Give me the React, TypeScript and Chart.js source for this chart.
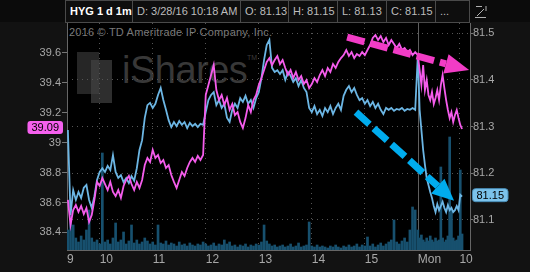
import React, { useEffect, useRef } from 'react';
import { Chart, registerables } from 'chart.js';

Chart.register(...registerables);

// ---------- data ----------
// x is a slot index along the time axis (Thursday session, then Monday session)
const THU_START = -6;
const THU_STEP = 3;
const MON_START = 390;
const MON_STEP = 2;
const SESSION_BREAK = 390;

// left axis series (pink)
const PINK_THU = [
  38.617, 38.45, 38.55, 38.583, 38.537, 38.577, 38.523, 38.563, 38.47, 38.517,
  38.617, 38.737, 38.71, 38.763, 38.723, 38.683, 38.737, 38.67, 38.643, 38.683,
  38.63, 38.71, 38.75, 38.777, 38.723, 38.683, 38.737, 38.697, 38.75, 38.85,
  38.897, 38.87, 38.95, 38.897, 38.917, 38.863, 38.883, 38.83, 38.85, 38.783,
  38.737, 38.697, 38.75, 38.803, 38.777, 38.83, 38.87, 38.897, 38.87, 38.91,
  38.883, 38.917, 39.317, 39.383, 39.45, 39.517, 39.35, 39.283, 39.317, 39.25,
  39.297, 39.217, 39.257, 39.183, 39.203, 39.137, 39.097, 39.163, 39.25, 39.203,
  39.283, 39.317, 39.383, 39.43, 39.483, 39.537, 39.563, 39.517, 39.55, 39.577,
  39.523, 39.55, 39.497, 39.45, 39.483, 39.43, 39.47, 39.417, 39.443, 39.39,
  39.417, 39.363, 39.39, 39.43, 39.403, 39.45, 39.483, 39.443, 39.497, 39.47,
  39.523, 39.497, 39.537, 39.563, 39.583, 39.617, 39.577, 39.603, 39.563, 39.59,
  39.577, 39.603, 39.583, 39.617, 39.65, 39.697, 39.717, 39.683, 39.71, 39.67,
  39.697, 39.65, 39.683, 39.657, 39.63, 39.657, 39.617, 39.63, 39.603, 39.617,
  39.583, 39.603,
];
const PINK_MON = [
  39.583, 39.483, 39.383, 39.517, 39.35, 39.417, 39.317, 39.283, 39.337, 39.257,
  39.297, 39.35, 39.283, 39.383, 39.45, 39.363, 39.283, 39.217, 39.163, 39.203,
  39.137, 39.183, 39.217, 39.163, 39.117, 39.09,
];

// right axis series (HYG, blue)
const BLUE_THU = [
  81.293, 81.111, 81.164, 81.143, 81.16, 81.147, 81.169, 81.175, 81.143, 81.126,
  81.151, 81.186, 81.203, 81.211, 81.203, 81.216, 81.207, 81.239, 81.203, 81.19,
  81.196, 81.181, 81.19, 81.179, 81.194, 81.184, 81.211, 81.25, 81.271, 81.319,
  81.346, 81.351, 81.34, 81.349, 81.368, 81.383, 81.357, 81.336, 81.314, 81.299,
  81.31, 81.301, 81.312, 81.304, 81.31, 81.297, 81.308, 81.301, 81.306, 81.299,
  81.306, 81.304, 81.331, 81.357, 81.368, 81.374, 81.346, 81.357, 81.34, 81.349,
  81.319, 81.31, 81.336, 81.349, 81.34, 81.361, 81.353, 81.366, 81.349, 81.357,
  81.34, 81.361, 81.374, 81.404, 81.443, 81.475, 81.486, 81.426, 81.417, 81.421,
  81.413, 81.421, 81.4, 81.417, 81.409, 81.396, 81.404, 81.387, 81.4, 81.383,
  81.374, 81.34, 81.331, 81.344, 81.327, 81.336, 81.323, 81.34, 81.331, 81.344,
  81.327, 81.34, 81.349, 81.336, 81.366, 81.379, 81.387, 81.374, 81.383, 81.368,
  81.357, 81.361, 81.349, 81.357, 81.344, 81.353, 81.34, 81.349, 81.336, 81.327,
  81.34, 81.336, 81.34, 81.334, 81.338, 81.336, 81.34, 81.334, 81.338, 81.336,
  81.34, 81.336,
];
const BLUE_MON = [
  81.454, 81.336, 81.293, 81.25, 81.218, 81.19, 81.175, 81.16, 81.147, 81.13,
  81.117, 81.134, 81.121, 81.13, 81.139, 81.126, 81.117, 81.132, 81.121, 81.126,
  81.117, 81.121, 81.13, 81.121, 81.154, 81.15,
];

// volume (thousand shares)
const VOL_THU = [
  100, 175, 125, 60, 40, 70, 50, 100, 200, 60,
  40, 50, 30, 485, 40, 50, 30, 60, 135, 40,
  50, 90, 30, 45, 125, 35, 50, 30, 40, 60,
  45, 30, 40, 25, 125, 35, 30, 45, 25, 35,
  30, 20, 40, 25, 30, 20, 35, 25, 20, 30,
  25, 40, 30, 20, 25, 35, 20, 30, 25, 50,
  30, 40, 20, 25, 15, 25, 20, 30, 15, 25,
  20, 30, 25, 40, 125, 45, 30, 20, 25, 15,
  20, 25, 15, 20, 30, 15, 20, 35, 15, 20,
  25, 140, 20, 15, 25, 15, 20, 15, 10, 20,
  15, 25, 15, 10, 20, 15, 25, 15, 20, 30,
  15, 25, 20, 65, 20, 30, 15, 25, 35, 20,
  30, 40, 50, 150, 40, 30, 45, 60, 40, 100,
  215, 200,
];
const VOL_MON = [
  100, 60, 75, 50, 40, 60, 45, 70, 50, 40,
  60, 45, 50, 415, 60, 40, 50, 70, 565, 200,
  60, 45, 50, 70, 400, 80,
];

const X_TICKS = [-7, 30, 90, 150, 210, 270, 330, 390, 437];
const X_LABELS = ['9', '10', '11', '12', '13', '14', '15', 'Mon', '10'];
const X_MIN = -7;
const X_MAX = 449;
const LEFT_TICKS = [38.4, 38.6, 38.8, 39.0, 39.2, 39.4, 39.6];
const LEFT_MIN = 38.283;
const LEFT_MAX = 39.797;
const RIGHT_TICKS = [81.1, 81.2, 81.3, 81.4, 81.5];
const RIGHT_MIN = 81.0357;
const RIGHT_MAX = 81.5221;
const VOL_MAX = 1135;

const HEADER = ['HYG 1 d 1m', 'D: 3/28/16 10:18 AM', 'O: 81.13', 'H: 81.15', 'L: 81.13', 'C: 81.15', '...'];
const WATERMARK = '2016 \u00A9 TD Ameritrade IP Company, Inc.';
const LOGO = 'iShares';

// annotation arrows: [x, value] start and end
const PINK_ARROW = [[310, 39.703], [448, 39.483]];
const BLUE_ARROW = [[320, 81.331], [431, 81.141]];

// ---------- styles ----------
const PINK = '#f55cec';
const BLUE = '#6cb6e4';
const VOL_COLOR = '#17506e';
const PINK_ARROW_COLOR = '#f23cc6';
const BLUE_ARROW_COLOR = '#00acee';
const FONT = "'Liberation Sans', Arial, Helvetica, sans-serif";
const TICK_COLOR = '#a8a8a8';
const GRID_COLOR = '#555555';

function buildPoints(thu: number[], mon: number[]) {
  return [
    ...thu.map((v, i) => ({ x: THU_START + THU_STEP * i, y: v })),
    ...mon.map((v, j) => ({ x: MON_START + MON_STEP * j, y: v })),
  ];
}

function drawArrow(ctx: CanvasRenderingContext2D, x1: number, y1: number, x2: number, y2: number, color: string, headLen: number, headW: number) {
  const ang = Math.atan2(y2 - y1, x2 - x1);
  const bx = x2 - headLen * Math.cos(ang);
  const by = y2 - headLen * Math.sin(ang);
  ctx.save();
  ctx.strokeStyle = color;
  ctx.lineWidth = 7;
  ctx.setLineDash([18, 6]);
  ctx.beginPath();
  ctx.moveTo(x1, y1);
  ctx.lineTo(bx, by);
  ctx.stroke();
  ctx.setLineDash([]);
  ctx.fillStyle = color;
  ctx.beginPath();
  ctx.moveTo(x2, y2);
  ctx.lineTo(bx + headW * Math.sin(ang), by - headW * Math.cos(ang));
  ctx.lineTo(bx - headW * Math.sin(ang), by + headW * Math.cos(ang));
  ctx.closePath();
  ctx.fill();
  ctx.restore();
}

function roundRect(ctx: CanvasRenderingContext2D, x: number, y: number, w: number, h: number, r: number) {
  ctx.beginPath();
  ctx.moveTo(x + r, y);
  ctx.lineTo(x + w - r, y);
  ctx.quadraticCurveTo(x + w, y, x + w, y + r);
  ctx.lineTo(x + w, y + h - r);
  ctx.quadraticCurveTo(x + w, y + h, x + w - r, y + h);
  ctx.lineTo(x + r, y + h);
  ctx.quadraticCurveTo(x, y + h, x, y + h - r);
  ctx.lineTo(x, y + r);
  ctx.quadraticCurveTo(x, y, x + r, y);
  ctx.closePath();
}

const overlayPlugin = {
  id: 'overlay',
  beforeDatasetsDraw(chart: any) {
    const { ctx, chartArea, scales } = chart;
    const x = Math.round(scales.x.getPixelForValue(SESSION_BREAK)) + 0.5;
    ctx.save();
    ctx.strokeStyle = '#5e5e5e';
    ctx.lineWidth = 1;
    ctx.beginPath();
    ctx.moveTo(x, chartArea.top);
    ctx.lineTo(x, chartArea.bottom);
    ctx.stroke();
    ctx.restore();
  },
  afterDatasetsDraw(chart: any) {
    const { ctx, scales } = chart;
    const px = scales.x;
    const yl = scales.yL;
    const yr = scales.yR;
    drawArrow(ctx,
      px.getPixelForValue(PINK_ARROW[0][0]), yl.getPixelForValue(PINK_ARROW[0][1]),
      px.getPixelForValue(PINK_ARROW[1][0]), yl.getPixelForValue(PINK_ARROW[1][1]),
      PINK_ARROW_COLOR, 24, 10);
    drawArrow(ctx,
      px.getPixelForValue(BLUE_ARROW[0][0]), yr.getPixelForValue(BLUE_ARROW[0][1]),
      px.getPixelForValue(BLUE_ARROW[1][0]), yr.getPixelForValue(BLUE_ARROW[1][1]),
      BLUE_ARROW_COLOR, 22, 10);
  },
  afterDraw(chart: any) {
    const { ctx, scales, chartArea } = chart;
    const lastPink = PINK_MON[PINK_MON.length - 1];
    const lastBlue = BLUE_MON[BLUE_MON.length - 1];
    ctx.save();
    ctx.font = `11px ${FONT}`;
    ctx.textBaseline = 'middle';
    // left value label
    const yp = scales.yL.getPixelForValue(lastPink) - 1.5;
    const tp = lastPink.toFixed(2);
    const wp = ctx.measureText(tp).width + 8;
    roundRect(ctx, chartArea.left - 4 - wp, yp - 6.5, wp, 13, 3);
    ctx.fillStyle = '#f560ee';
    ctx.fill();
    ctx.fillStyle = '#000';
    ctx.textAlign = 'center';
    ctx.fillText(tp, chartArea.left - 4 - wp / 2, yp + 0.5);
    // right value label
    const yb = scales.yR.getPixelForValue(lastBlue) - 1.5;
    const tb = lastBlue.toFixed(2);
    const wb = ctx.measureText(tb).width + 8;
    roundRect(ctx, chartArea.right + 2.5, yb - 6.5, wb, 13, 3);
    ctx.fillStyle = '#7cc3ec';
    ctx.fill();
    ctx.strokeStyle = '#4a8fb8';
    ctx.lineWidth = 1;
    ctx.stroke();
    ctx.fillStyle = '#000';
    ctx.fillText(tb, chartArea.right + 2.5 + wb / 2, yb + 0.5);
    ctx.restore();
  },
};

export default function App() {
  const ref = useRef<HTMLCanvasElement>(null);

  useEffect(() => {
    const canvas = ref.current!;
    const chart = new Chart(canvas, {
      type: 'line',
      data: {
        datasets: [
          {
            label: 'Pink',
            data: buildPoints(PINK_THU, PINK_MON),
            yAxisID: 'yL',
            borderColor: PINK,
            borderWidth: 1.8,
            pointRadius: 0,
            tension: 0,
            order: 0,
          },
          {
            label: 'HYG',
            data: buildPoints(BLUE_THU, BLUE_MON),
            yAxisID: 'yR',
            borderColor: BLUE,
            borderWidth: 1.8,
            pointRadius: 0,
            tension: 0,
            order: 1,
          },
          {
            type: 'bar',
            label: 'Volume',
            data: buildPoints(VOL_THU, VOL_MON),
            yAxisID: 'yV',
            backgroundColor: VOL_COLOR,
            barThickness: 2,
            order: 2,
          } as any,
        ],
      },
      options: {
        responsive: false,
        animation: false,
        devicePixelRatio: 1,
        layout: { padding: { top: 23, left: 0, right: 0, bottom: 0 } },
        plugins: { legend: { display: false }, tooltip: { enabled: false } },
        scales: {
          x: {
            type: 'linear',
            position: 'bottom',
            min: X_MIN,
            max: X_MAX,
            offset: false,
            afterBuildTicks: (s: any) => { s.ticks = X_TICKS.map((v) => ({ value: v })); },
            afterFit: (s: any) => { s.height = 22; },
            ticks: {
              autoSkip: false,
              maxRotation: 0,
              align: 'start',
              padding: 2,
              color: TICK_COLOR,
              font: { family: FONT, size: 12 },
              callback: (_v: any, i: number) => X_LABELS[i],
            },
            grid: {
              offset: false,
              drawTicks: false,
              lineWidth: 1,
              color: (c: any) => (c.tick && c.tick.value === SESSION_BREAK ? 'rgba(0,0,0,0)' : GRID_COLOR),
            },
            border: { display: true, color: '#666', dash: [1, 4] },
          },
          yL: {
            type: 'linear',
            position: 'left',
            min: LEFT_MIN,
            max: LEFT_MAX,
            afterBuildTicks: (s: any) => { s.ticks = LEFT_TICKS.map((v) => ({ value: v })); },
            afterFit: (s: any) => { s.width = 67; },
            ticks: {
              padding: 1,
              color: TICK_COLOR,
              font: { family: FONT, size: 11 },
              callback: (v: any) => String(Number(Number(v).toFixed(1))),
            },
            grid: { drawOnChartArea: false, drawTicks: true, tickLength: 5, tickColor: '#777' },
            border: { display: true, color: '#666' },
          },
          yR: {
            type: 'linear',
            position: 'right',
            min: RIGHT_MIN,
            max: RIGHT_MAX,
            afterBuildTicks: (s: any) => { s.ticks = RIGHT_TICKS.map((v) => ({ value: v })); },
            afterFit: (s: any) => { s.width = 60; },
            ticks: {
              padding: 0,
              color: TICK_COLOR,
              font: { family: FONT, size: 11 },
              callback: (v: any) => String(Number(Number(v).toFixed(1))),
            },
            grid: { drawOnChartArea: true, drawTicks: true, tickLength: 3, tickColor: '#777', color: GRID_COLOR, lineWidth: 1 },
            border: { display: true, color: '#666', dash: [1, 4] },
          },
          yV: {
            type: 'linear',
            display: false,
            min: 0,
            max: VOL_MAX,
          },
        },
      } as any,
      plugins: [overlayPlugin],
    });
    return () => chart.destroy();
  }, []);

  const edges = [65, 132, 240, 288, 337, 386, 435, 469];

  return (
    <div style={{ position: 'fixed', left: 0, top: 0, width: 535, height: 272, background: '#fff', overflow: 'hidden', fontFamily: FONT }}>
      <div style={{ position: 'absolute', left: 0, top: 0, width: 530, height: 272, background: '#121212' }} />
      <div style={{ position: 'absolute', left: 0, top: 0, width: 530, height: 22, background: '#0b0b0b' }} />
      <div style={{ position: 'absolute', left: 67, top: 23, width: 403, height: 227, background: '#000' }} />
      {/* watermark */}
      <div style={{ position: 'absolute', left: 69, top: 26, fontSize: 11, color: '#7a7a7a', whiteSpace: 'nowrap', letterSpacing: 0.2 }}>{WATERMARK}</div>
      <div style={{ position: 'absolute', left: 77, top: 52, width: 22, height: 42, background: '#262626' }} />
      <div style={{ position: 'absolute', left: 91, top: 60, width: 21, height: 43, background: '#2e2e2e' }} />
      <div style={{ position: 'absolute', left: 91, top: 60, width: 8, height: 34, background: '#3a3a3a' }} />
      <div style={{ position: 'absolute', left: 122, top: 51, fontSize: 38, lineHeight: '38px', color: '#383838', whiteSpace: 'nowrap', letterSpacing: -0.5 }}>{LOGO}</div>
      <div style={{ position: 'absolute', left: 247, top: 54, fontSize: 7, color: '#3b3b3b' }}>TM</div>
      <canvas ref={ref} width={530} height={272} style={{ position: 'absolute', left: 0, top: 0, width: 530, height: 272 }} />
      {/* header */}
      {HEADER.map((t, i) => (
        <div key={i} style={{
          position: 'absolute', left: edges[i], top: 0, width: edges[i + 1] - edges[i] + 1, height: 23,
          boxSizing: 'border-box', border: '1px solid #4a4a4a', background: '#0e0e0e',
          color: i === 0 ? '#ffffff' : '#bdbdbd', fontWeight: i === 0 ? 'bold' : 'normal',
          fontSize: 11, lineHeight: '21px', paddingLeft: 4, whiteSpace: 'nowrap', overflow: 'hidden',
        }}>{t}</div>
      ))}
      <svg style={{ position: 'absolute', left: 474, top: 5, width: 14, height: 14 }} viewBox="0 0 14 14">
        <path d="M1 12.5 H12" stroke="#b0b0b0" strokeWidth="1" fill="none" />
        <path d="M3 11 L10 4" stroke="#b0b0b0" strokeWidth="1" fill="none" />
        <path d="M2 1.5 H8" stroke="#b0b0b0" strokeWidth="1" fill="none" />
        <path d="M12 1 V6" stroke="#b0b0b0" strokeWidth="1" fill="none" />
      </svg>
    </div>
  );
}
